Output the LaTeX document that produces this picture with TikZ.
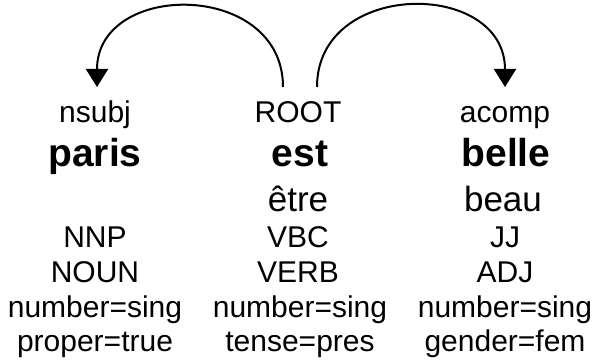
\documentclass[tikz,border=0pt]{standalone}
\usepackage{fontspec}
\setmainfont{Liberation Sans}
\usetikzlibrary{arrows.meta}
\begin{document}
\begin{tikzpicture}[x=1pt,y=1pt,
  txt/.style={inner sep=0pt,anchor=base},
  dep/.style={txt,font=\fontsize{30}{36}\selectfont},
  word/.style={txt,font=\fontsize{39}{46}\selectfont\bfseries},
  lemma/.style={txt,font=\fontsize{35}{42}\selectfont},
  feat/.style={txt,font=\fontsize{30}{36}\selectfont},
  arc/.style={line width=2pt,-{Triangle[width=22pt,length=18pt]},looseness=1.47}]
\useasboundingbox (0,0) rectangle (595,361);
% column 1
\node[dep]  (nsubj) at (95,238) {nsubj};
\node[word] (paris) at (95,194) {paris};
\node[feat] (nnp)   at (95,113) {NNP};
\node[feat] (noun)  at (95,78)  {NOUN};
\node[feat] (num1)  at (95,43)  {number=sing};
\node[feat] (prop)  at (95,9)   {proper=true};
% column 2
\node[dep]  (root)  at (298,238) {ROOT};
\node[word] (est)   at (300,194) {est};
\node[lemma](etre)  at (298,149) {être};
\node[feat] (vbc)   at (298,113) {VBC};
\node[feat] (verb)  at (298,78)  {VERB};
\node[feat] (num2)  at (300,43)  {number=sing};
\node[feat] (tense) at (300,9)   {tense=pres};
% column 3
\node[dep]  (acomp) at (505,238) {acomp};
\node[word] (belle) at (506,194) {belle};
\node[lemma](beau)  at (503,149) {beau};
\node[feat] (jj)    at (505,113) {JJ};
\node[feat] (adj)   at (505,78)  {ADJ};
\node[feat] (num3)  at (505,43)  {number=sing};
\node[feat] (gend)  at (505,9)   {gender=fem};
% arcs
\coordinate (rootL) at ([xshift=-15pt,yshift=36pt]root.base);
\coordinate (rootR) at ([xshift=19pt,yshift=36pt]root.base);
\coordinate (nsubjIn) at ([xshift=2pt,yshift=36pt]nsubj.base);
\coordinate (acompIn) at ([yshift=36pt]acomp.base);
\draw[arc] (rootL) to[out=90,in=90] (nsubjIn);
\draw[arc] (rootR) to[out=90,in=90] (acompIn);
\end{tikzpicture}
\end{document}
